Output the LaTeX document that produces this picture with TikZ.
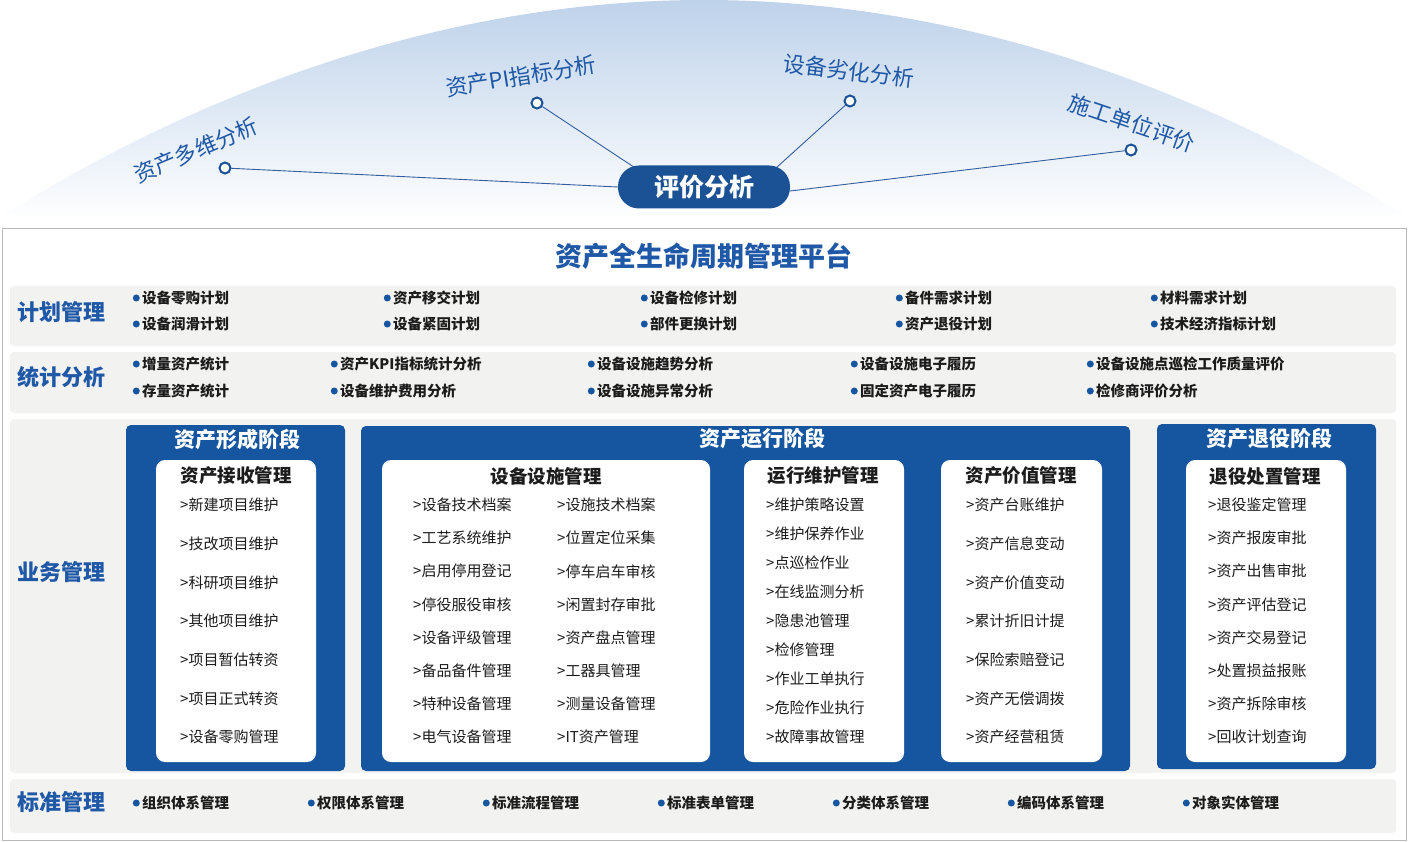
\documentclass[tikz,border=0pt]{standalone}
\usepackage{fontspec}
\setmainfont{Noto Sans CJK SC}
\usetikzlibrary{positioning,backgrounds}
\definecolor{domeblue}{RGB}{190,210,234}
\definecolor{pillblue}{RGB}{27,82,150}
\definecolor{panelblue}{RGB}{22,86,160}
\definecolor{titleblue}{RGB}{30,88,166}
\definecolor{rowgray}{RGB}{242,242,241}
\definecolor{linkblue}{RGB}{50,94,158}
\definecolor{boxgray}{RGB}{185,185,185}
\definecolor{inkgray}{RGB}{28,28,28}
\tikzset{
  spoke/.style={draw=linkblue, line width=0.9pt},
  ring/.style={circle, draw=pillblue, line width=2pt, fill=white, inner sep=0pt, minimum size=11pt},
  domelabel/.style={text=titleblue, font=\fontsize{22}{26}\selectfont, inner sep=0pt},
  pill/.style={fill=pillblue, text=white, rounded corners=21pt, minimum width=172pt, minimum height=43pt, font=\bfseries\fontsize{25}{28}\selectfont},
  rowbox/.style={fill=rowgray, rounded corners=4pt},
  rowlabel/.style={text=titleblue, font=\bfseries\fontsize{22}{26}\selectfont, inner sep=0pt},
  dot/.style={circle, fill=panelblue, inner sep=0pt, minimum size=7pt},
  rowitem/.style={anchor=west, font=\bfseries\fontsize{14.5}{17}\selectfont, text=inkgray, inner sep=0pt, label={[dot, label distance=2pt]left:}},
  panel/.style={fill=panelblue, rounded corners=5pt},
  paneltitle/.style={text=white, font=\bfseries\fontsize{21}{25}\selectfont, inner sep=0pt},
  card/.style={fill=white, rounded corners=9pt},
  cardhead/.style={text=inkgray, font=\bfseries\fontsize{18.5}{22}\selectfont, inner sep=0pt},
  carditem/.style={anchor=west, text=inkgray, font=\fontsize{15}{18}\selectfont, inner sep=0pt}
}
\begin{document}
\begin{tikzpicture}[x=1pt,y=-1pt]
\useasboundingbox (0,0) rectangle (1408,842);
% dome
\begin{scope}[on background layer]
  \clip (0,217) parabola bend (704,0) (1408,217) -- cycle;
  \shade[top color=domeblue, bottom color=white] (0,0) rectangle (1408,222);
\end{scope}
\node[pill] (eval) at (704,187) {评价分析};
\node[ring] (multi) at (225,168) {};
\node[ring] (kpi) at (537,103) {};
\node[ring] (wear) at (850,101) {};
\node[ring] (build) at (1131,150) {};
\node[domelabel, rotate=23] (multil) at (196,150) {资产多维分析};
\node[domelabel, rotate=9] (kpil) at (521,76) {资产PI指标分析};
\node[domelabel, rotate=-7] (wearl) at (849,71) {设备劣化分析};
\node[domelabel, rotate=-19] (buildl) at (1132,123) {施工单位评价};
\begin{scope}[on background layer]
  \draw[spoke] (multi) -- (eval.west);
  \draw[spoke] (kpi) -- ([xshift=-40pt]eval.center);
  \draw[spoke] (wear) -- ([xshift=51pt]eval.center);
  \draw[spoke] (build) -- ([yshift=-4pt]eval.east);
\end{scope}

% platform
\draw[boxgray, fill=white] (2,228) rectangle (1406,840);
\node[text=titleblue, font=\bfseries\fontsize{27}{30}\selectfont, inner sep=0pt] (platform) at (704,256) {资产全生命周期管理平台};

% plan row
\fill[rowbox] (10,286) rectangle (1396,346);
\node[rowlabel] (plan) at (61,312) {计划管理};
\foreach \x/\a/\b [count=\i] in {142/设备零购计划/设备润滑计划, 393/资产移交计划/设备紧固计划,
    650/设备检修计划/部件更换计划, 905/备件需求计划/资产退役计划, 1160/材料需求计划/技术经济指标计划}{
  \node[rowitem] (pa\i) at (\x,298) {\a};
  \node[rowitem] (pb\i) at (\x,324) {\b};
}

% statistics row
\fill[rowbox] (10,352) rectangle (1396,413);
\node[rowlabel] (stat) at (61,377) {统计分析};
\foreach \x/\a/\b [count=\i] in {142/增量资产统计/存量资产统计, 340/资产KPI指标统计分析/设备维护费用分析,
    597/设备设施趋势分析/设备设施异常分析, 860/设备设施电子履历/固定资产电子履历, 1096/设备设施点巡检工作质量评价/检修商评价分析}{
  \node[rowitem] (sa\i) at (\x,364) {\a};
  \node[rowitem] (sb\i) at (\x,391) {\b};
}

% business row
\fill[rowbox] (10,419) rectangle (1396,773);
\node[rowlabel] (biz) at (61,572) {业务管理};

\fill[panel] (126,425) rectangle (345,771);
\node[paneltitle] (form) at (237,439) {资产形成阶段};
\fill[card] (156,460) rectangle (316,762);
\node[cardhead] (recv) at (236,476) {资产接收管理};
\foreach \t [count=\i] in {新建项目维护,技改项目维护,科研项目维护,其他项目维护,项目暂估转资,项目正式转资,设备零购管理}
  \node[carditem] (rc\i) at (180,{505+(\i-1)*38.67}) {>\t};

\fill[panel] (361,426) rectangle (1130,771);
\node[paneltitle] (run) at (762,439) {资产运行阶段};
\fill[card] (382,460) rectangle (710,762);
\node[cardhead] (equip) at (546,476) {设备设施管理};
\foreach \a/\b [count=\i] in {设备技术档案/设施技术档案, 工艺系统维护/位置定位采集, 启用停用登记/停车启车审核,
    停役服役审核/闲置封存审批, 设备评级管理/资产盘点管理, 备品备件管理/工器具管理, 特种设备管理/测量设备管理, 电气设备管理/IT资产管理}{
  \node[carditem] (ea\i) at (413,{505+(\i-1)*33.14}) {>\a};
  \node[carditem] (eb\i) at (557,{505+(\i-1)*33.14}) {>\b};
}
\fill[card] (744,460) rectangle (904,762);
\node[cardhead] (maint) at (823,476) {运行维护管理};
\foreach \t [count=\i] in {维护策略设置,维护保养作业,点巡检作业,在线监测分析,隐患池管理,检修管理,作业工单执行,危险作业执行,故障事故管理}
  \node[carditem] (mc\i) at (766,{505+(\i-1)*29}) {>\t};
\fill[card] (941,460) rectangle (1102,762);
\node[cardhead] (value) at (1021,476) {资产价值管理};
\foreach \t [count=\i] in {资产台账维护,资产信息变动,资产价值变动,累计折旧计提,保险索赔登记,资产无偿调拨,资产经营租赁}
  \node[carditem] (vc\i) at (966,{505+(\i-1)*38.67}) {>\t};

\fill[panel] (1157,424) rectangle (1376,769);
\node[paneltitle] (retire) at (1269,439) {资产退役阶段};
\fill[card] (1186,460) rectangle (1346,762);
\node[cardhead] (dispose) at (1265,476) {退役处置管理};
\foreach \t [count=\i] in {退役鉴定管理,资产报废审批,资产出售审批,资产评估登记,资产交易登记,处置损益报账,资产拆除审核,回收计划查询}
  \node[carditem] (dc\i) at (1208,{505+(\i-1)*33.14}) {>\t};

% standard row
\fill[rowbox] (10,779) rectangle (1396,833);
\node[rowlabel] (std) at (61,802) {标准管理};
\foreach \t [count=\i] in {组织体系管理,权限体系管理,标准流程管理,标准表单管理,分类体系管理,编码体系管理,对象实体管理}
  \node[rowitem] (st\i) at ({142+(\i-1)*175},803) {\t};
\end{tikzpicture}
\end{document}
